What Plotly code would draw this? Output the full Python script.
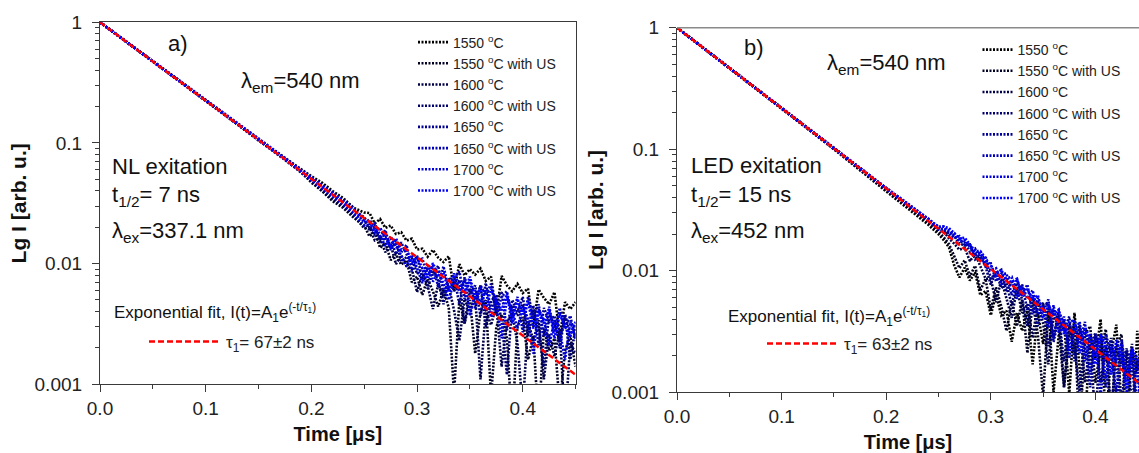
import plotly.graph_objects as go

W, H = 1139, 453
FONT = "Liberation Sans, Arial, sans-serif"

# ---------------- data ----------------
SERIES = ["1550 <sup>o</sup>C", "1550 <sup>o</sup>C with US", "1600 <sup>o</sup>C",
          "1600 <sup>o</sup>C with US", "1650 <sup>o</sup>C", "1650 <sup>o</sup>C with US",
          "1700 <sup>o</sup>C", "1700 <sup>o</sup>C with US"]
COLORS = ["#000000", "#000024", "#000049", "#00006D", "#000092", "#0000B6", "#0000DB", "#0000FF"]

TIME_A = [0, 0.05, 0.1, 0.15, 0.17, 0.19, 0.2, 0.21, 0.22, 0.23, 0.24,
          0.25, 0.255, 0.26, 0.265, 0.27, 0.275, 0.28, 0.285, 0.29, 0.295,
          0.30, 0.305, 0.31, 0.315, 0.32, 0.325, 0.33, 0.335, 0.34, 0.345,
          0.35, 0.355, 0.36, 0.365, 0.37, 0.375, 0.38, 0.385, 0.39, 0.395,
          0.40, 0.405, 0.41, 0.415, 0.42, 0.425, 0.43, 0.435, 0.44, 0.445, 0.45]

A_1550 = [1.0, 0.470, 0.223, 0.106, 0.080, 0.060, 0.053, 0.047, 0.040, 0.035, 0.029,
          0.0265, 0.0263, 0.0215, 0.0234, 0.0198, 0.0207, 0.0176, 0.0182, 0.0155, 0.0161,
          0.0131, 0.0133, 0.0114, 0.0130, 0.0112, 0.0103, 0.0115, 0.0060, 0.0099, 0.0080,
          0.0090, 0.0081, 0.0091, 0.0072, 0.0078, 0.0038, 0.0079, 0.0066, 0.0059, 0.0068,
          0.0057, 0.0062, 0.0030, 0.0061, 0.0052, 0.0046, 0.0058, 0.0025, 0.0048, 0.0042, 0.0048]
A_1550_US = [1.0, 0.475, 0.226, 0.105, 0.078, 0.058, 0.047, 0.040, 0.033, 0.029, 0.024,
             0.0207, 0.0168, 0.0185, 0.0135, 0.0149, 0.0107, 0.0120, 0.0098, 0.0107, 0.0070,
             0.0078, 0.0055, 0.0075, 0.0059, 0.0044, 0.0061, 0.0043, 0.00083, 0.0050, 0.0032,
             0.0050, 0.0018, 0.0040, 0.0050, 0.0008, 0.0030, 0.0038, 0.0024, 0.00045, 0.0031,
             0.0036, 0.0016, 0.0025, 0.00046, 0.0029, 0.0019, 0.0024, 0.00066, 0.0019, 0.0025, 0.0014]
A_1600 = [1.0, 0.472, 0.224, 0.107, 0.079, 0.057, 0.048, 0.041, 0.034, 0.030, 0.025,
          0.0196, 0.0200, 0.0156, 0.0162, 0.0124, 0.0145, 0.0099, 0.0117, 0.0095, 0.0091,
          0.0058, 0.0083, 0.0066, 0.0042, 0.0068, 0.0053, 0.0065, 0.0041, 0.0023, 0.0051,
          0.0040, 0.0054, 0.0011, 0.0041, 0.0031, 0.0045, 0.0014, 0.0033, 0.0038, 0.0022,
          0.00063, 0.0033, 0.0023, 0.0034, 0.0011, 0.0026, 0.0017, 0.0028, 0.00048, 0.0022, 0.0018]
A_1600_US = [1.0, 0.474, 0.225, 0.106, 0.080, 0.059, 0.050, 0.042, 0.036, 0.031, 0.026,
             0.0230, 0.0189, 0.0205, 0.0153, 0.0165, 0.0138, 0.0155, 0.0104, 0.0113, 0.0112,
             0.0082, 0.0092, 0.0062, 0.0092, 0.0072, 0.0046, 0.0076, 0.0059, 0.0073, 0.0032,
             0.0062, 0.0048, 0.0066, 0.0030, 0.0049, 0.0055, 0.0034, 0.0012, 0.0045, 0.0037,
             0.0046, 0.0025, 0.0041, 0.0030, 0.0014, 0.0039, 0.0031, 0.0023, 0.0037, 0.0016, 0.0030]
A_1650 = [1.0, 0.473, 0.224, 0.107, 0.079, 0.059, 0.051, 0.044, 0.038, 0.033, 0.028,
          0.0242, 0.0210, 0.0176, 0.0198, 0.0157, 0.0161, 0.0120, 0.0150, 0.0119, 0.0096,
          0.0116, 0.0074, 0.0097, 0.0080, 0.0096, 0.0057, 0.0072, 0.0079, 0.0046, 0.0077,
          0.0056, 0.0066, 0.0037, 0.0069, 0.0042, 0.0053, 0.0058, 0.0028, 0.0050, 0.0040,
          0.0053, 0.0029, 0.0045, 0.0021, 0.0043, 0.0033, 0.0037, 0.0020, 0.0038, 0.0026, 0.0032]
A_1650_US = [1.0, 0.476, 0.226, 0.108, 0.080, 0.060, 0.052, 0.045, 0.039, 0.034, 0.029,
             0.0219, 0.0231, 0.0195, 0.0162, 0.0190, 0.0130, 0.0148, 0.0124, 0.0143, 0.0086,
             0.0107, 0.0110, 0.0079, 0.0097, 0.0064, 0.0095, 0.0061, 0.0076, 0.0086, 0.0051,
             0.0074, 0.0042, 0.0066, 0.0055, 0.0068, 0.0038, 0.0053, 0.0059, 0.0036, 0.0053,
             0.0027, 0.0053, 0.0035, 0.0046, 0.0025, 0.0044, 0.0027, 0.0043, 0.0029, 0.0037, 0.0023]
A_1700 = [1.0, 0.474, 0.225, 0.106, 0.079, 0.058, 0.049, 0.042, 0.036, 0.031, 0.026,
          0.0207, 0.0210, 0.0215, 0.0171, 0.0140, 0.0168, 0.0141, 0.0117, 0.0095, 0.0118,
          0.0092, 0.0069, 0.0092, 0.0071, 0.0088, 0.0068, 0.0050, 0.0072, 0.0059, 0.0074,
          0.0037, 0.0060, 0.0048, 0.0061, 0.0036, 0.0050, 0.0024, 0.0052, 0.0041, 0.0029,
          0.0044, 0.0035, 0.0018, 0.0042, 0.0034, 0.0021, 0.0034, 0.0028, 0.0016, 0.0033, 0.0024]
A_1700_US = [1.0, 0.474, 0.226, 0.107, 0.080, 0.059, 0.051, 0.044, 0.038, 0.033, 0.028,
             0.0230, 0.0221, 0.0185, 0.0198, 0.0165, 0.0138, 0.0162, 0.0130, 0.0131, 0.0102,
             0.0112, 0.0092, 0.0075, 0.0101, 0.0080, 0.0084, 0.0058, 0.0083, 0.0066, 0.0058,
             0.0078, 0.0051, 0.0063, 0.0041, 0.0062, 0.0050, 0.0041, 0.0056, 0.0032, 0.0051,
             0.0038, 0.0049, 0.0029, 0.0040, 0.0032, 0.0042, 0.0024, 0.0038, 0.0030, 0.0025, 0.0033]

TIME_B = [0, 0.05, 0.1, 0.15, 0.2, 0.22, 0.24, 0.25,
          0.255, 0.26, 0.265, 0.27, 0.275, 0.28, 0.285, 0.29, 0.295, 0.30,
          0.305, 0.31, 0.315, 0.32, 0.325, 0.33, 0.335, 0.34, 0.345, 0.35,
          0.355, 0.36, 0.365, 0.37, 0.375, 0.38, 0.385, 0.39, 0.395, 0.40,
          0.405, 0.41, 0.415, 0.42, 0.425, 0.43, 0.435, 0.44, 0.445, 0.45]

B_1550 = [1.0, 0.466, 0.217, 0.100, 0.045, 0.033, 0.024, 0.020,
          0.0179, 0.0156, 0.0111, 0.0088, 0.0106, 0.0083, 0.0097, 0.0063, 0.0068, 0.0043,
          0.0064, 0.0043, 0.0047, 0.0026, 0.0045, 0.0032, 0.0047, 0.0017, 0.0045, 0.0025,
          0.0052, 0.0010, 0.0030, 0.0039, 0.00096, 0.0045, 0.0017, 0.00054, 0.0030, 0.0019,
          0.0040, 0.00055, 0.0021, 0.0036, 0.00076, 0.0022, 0.00036, 0.0032, 0.0012, 0.0021]
B_1550_US = [1.0, 0.467, 0.218, 0.101, 0.046, 0.034, 0.025, 0.021,
             0.0189, 0.0166, 0.0130, 0.0105, 0.0122, 0.0090, 0.0110, 0.0069, 0.0086, 0.0048,
             0.0073, 0.0051, 0.0032, 0.0056, 0.0035, 0.0058, 0.0021, 0.0055, 0.0030, 0.00092,
             0.0047, 0.0028, 0.0048, 0.0011, 0.0029, 0.0036, 0.00042, 0.0030, 0.0035, 0.0012,
             0.0023, 0.0033, 0.00063, 0.0024, 0.0030, 0.00045, 0.0023, 0.0015, 0.0031, 0.00064]
B_1600 = [1.0, 0.467, 0.218, 0.102, 0.047, 0.035, 0.026, 0.022,
          0.0210, 0.0185, 0.0167, 0.0149, 0.0155, 0.0120, 0.0138, 0.0107, 0.0086, 0.0086,
          0.0055, 0.0085, 0.0059, 0.0041, 0.0072, 0.0045, 0.0053, 0.0028, 0.0055, 0.0037,
          0.0017, 0.0048, 0.0033, 0.0011, 0.0035, 0.0021, 0.0036, 0.0012, 0.0025, 0.0006,
          0.0028, 0.0018, 0.0028, 0.0007, 0.0021, 0.0013, 0.0025, 0.00051, 0.0017, 0.0019]
B_1600_US = [1.0, 0.468, 0.219, 0.101, 0.047, 0.035, 0.026, 0.022,
             0.0221, 0.0195, 0.0194, 0.0166, 0.0163, 0.0165, 0.0124, 0.0132, 0.0108, 0.0077,
             0.0100, 0.0072, 0.0079, 0.0052, 0.0079, 0.0058, 0.0035, 0.0061, 0.0043, 0.0055,
             0.0024, 0.0040, 0.0043, 0.0018, 0.0038, 0.0024, 0.00098, 0.0034, 0.0023, 0.0031,
             0.0012, 0.0024, 0.00063, 0.0024, 0.0017, 0.0023, 0.00081, 0.0019, 0.0006, 0.0019]
B_1650 = [1.0, 0.467, 0.218, 0.102, 0.048, 0.035, 0.026, 0.022,
          0.0210, 0.0205, 0.0204, 0.0175, 0.0171, 0.0143, 0.0152, 0.0126, 0.0131, 0.0086,
          0.0096, 0.0102, 0.0067, 0.0081, 0.0062, 0.0077, 0.0047, 0.0063, 0.0035, 0.0051,
          0.0054, 0.0026, 0.0041, 0.0032, 0.0042, 0.0018, 0.0034, 0.0024, 0.0011, 0.0030,
          0.0023, 0.0011, 0.0027, 0.0017, 0.00076, 0.0022, 0.0017, 0.0006, 0.0022, 0.0014]
B_1650_US = [1.0, 0.468, 0.219, 0.102, 0.048, 0.036, 0.027, 0.023,
             0.0231, 0.0205, 0.0185, 0.0193, 0.0163, 0.0165, 0.0131, 0.0145, 0.0114, 0.0115,
             0.0082, 0.0094, 0.0095, 0.0063, 0.0086, 0.0064, 0.0077, 0.0044, 0.0060, 0.0046,
             0.0058, 0.0028, 0.0046, 0.0037, 0.0019, 0.0039, 0.0025, 0.0038, 0.0014, 0.0029,
             0.00092, 0.0030, 0.0021, 0.0010, 0.0027, 0.0014, 0.0023, 0.00077, 0.0020, 0.0011]
B_1700 = [1.0, 0.467, 0.218, 0.101, 0.047, 0.035, 0.027, 0.022,
          0.0221, 0.0215, 0.0194, 0.0175, 0.0179, 0.0158, 0.0138, 0.0139, 0.0108, 0.0101,
          0.0105, 0.0077, 0.0087, 0.0089, 0.0059, 0.0074, 0.0059, 0.0069, 0.0045, 0.0051,
          0.0034, 0.0052, 0.0031, 0.0042, 0.0022, 0.0032, 0.0038, 0.0018, 0.0030, 0.0020,
          0.0030, 0.0013, 0.0024, 0.0018, 0.0025, 0.00099, 0.0022, 0.0014, 0.00068, 0.0020]
B_1700_US = [1.0, 0.468, 0.219, 0.102, 0.048, 0.036, 0.027, 0.023,
             0.0231, 0.0224, 0.0204, 0.0184, 0.0187, 0.0165, 0.0145, 0.0145, 0.0125, 0.0110,
             0.0091, 0.0102, 0.0083, 0.0081, 0.0086, 0.0061, 0.0071, 0.0058, 0.0063, 0.0041,
             0.0052, 0.0044, 0.0048, 0.0030, 0.0038, 0.0039, 0.0021, 0.0034, 0.0028, 0.0017,
             0.0030, 0.0024, 0.0014, 0.0027, 0.0020, 0.0011, 0.0023, 0.0019, 0.0012, 0.0019]

# exponential fit lines (end points)
FIT_T = [0.0, 0.45]
FIT_A = [1.0, 0.0012]
FIT_B = [1.0, 0.00105]
FIT_NAME_A = "τ<sub>1</sub>= 67±2 ns"
FIT_NAME_B = "τ<sub>1</sub>= 63±2 ns"

Y_TICKS = [0.001, 0.01, 0.1, 1]
Y_TICKTEXT = ["0.001", "0.01", "0.1", "1"]
Y_MINOR = [m * d for d in (0.001, 0.01, 0.1) for m in range(2, 10)]

PANEL_A = [A_1550, A_1550_US, A_1600, A_1600_US, A_1650, A_1650_US, A_1700, A_1700_US]
PANEL_B = [B_1550, B_1550_US, B_1600, B_1600_US, B_1650, B_1650_US, B_1700, B_1700_US]
for s in PANEL_A:
    assert len(s) == len(TIME_A)
for s in PANEL_B:
    assert len(s) == len(TIME_B)

# ---------------- figure ----------------
fig = go.Figure()
DOT = "2px,1.5px"
LW = 2.6

for name, col, ys in zip(SERIES, COLORS, PANEL_A):
    fig.add_trace(go.Scatter(x=TIME_A, y=ys, mode="lines", name=name,
                             line=dict(color=col, width=LW, dash=DOT),
                             xaxis="x", yaxis="y", legend="legend"))
fig.add_trace(go.Scatter(x=FIT_T, y=FIT_A, mode="lines", name=FIT_NAME_A,
                         line=dict(color="#FF0000", width=2.5, dash="6px,3px"),
                         xaxis="x", yaxis="y", legend="legend3"))

for name, col, ys in zip(SERIES, COLORS, PANEL_B):
    fig.add_trace(go.Scatter(x=TIME_B, y=ys, mode="lines", name=name,
                             line=dict(color=col, width=LW, dash=DOT),
                             xaxis="x2", yaxis="y2", legend="legend2"))
fig.add_trace(go.Scatter(x=FIT_T, y=FIT_B, mode="lines", name=FIT_NAME_B,
                         line=dict(color="#FF0000", width=2.5, dash="6px,3px"),
                         xaxis="x2", yaxis="y2", legend="legend4"))

AX = "#3a3a3a"
TICKFONT = dict(family=FONT, size=19, color="#222")
TITLEFONT = dict(family=FONT, size=20, color="#111", weight="bold")


def xax(domain, anchor, rng, mirror):
    return dict(domain=domain, anchor=anchor, range=rng, showgrid=False, zeroline=False,
                automargin=False,
                showline=True, linecolor=AX, linewidth=1.2, mirror=mirror,
                ticks="outside", ticklen=7, tickwidth=1, tickcolor=AX,
                dtick=0.1, tick0=0, tickformat=".1f", tickfont=TICKFONT,
                minor=dict(ticks="outside", ticklen=4, dtick=0.05, tick0=0, tickcolor=AX),
                title=dict(text="<b>Time [μs]</b>", font=TITLEFONT, standoff=8))


def yax(domain, anchor, mirror):
    return dict(domain=domain, anchor=anchor, type="log", range=[-3, 0], showgrid=False,
                zeroline=False, automargin=False,
                showline=True, linecolor=AX, linewidth=1.2, mirror=mirror,
                ticks="outside", ticklen=7, tickwidth=1, tickcolor=AX, ticklabelstandoff=6,
                tickmode="array", tickvals=Y_TICKS, ticktext=Y_TICKTEXT, tickfont=TICKFONT,
                minor=dict(ticks="outside", ticklen=4, tickmode="array", tickvals=Y_MINOR,
                           tickcolor=AX),
                title=dict(text="<b>Lg I [arb. u.]</b>", font=dict(family=FONT, size=21,
                           color="#111", weight="bold"), standoff=2))


XA = [100 / W, 575.6 / W]
YA = [1 - 384.3 / H, 1 - 22.3 / H]
XB = [677 / W, 1.0]
YB = [1 - 392.3 / H, 1 - 27.7 / H]

LEG = dict(xanchor="left", yanchor="top", bgcolor="rgba(0,0,0,0)", borderwidth=0,
           font=dict(family=FONT, size=14, color="#222"), itemclick=False)

fig.update_layout(
    width=W, height=H, margin=dict(l=0, r=0, t=0, b=0, autoexpand=False),
    paper_bgcolor="white", plot_bgcolor="white",
    font=dict(family=FONT, color="#222"),
    xaxis=xax(XA, "y", [0, 0.45], True),
    yaxis=yax(YA, "x", True),
    xaxis2=xax(XB, "y2", [0, (W - 677) / 1046], False),
    yaxis2=yax(YB, "x2", False),
    legend=dict(LEG, x=413 / W, y=1 - 26.5 / H),
    legend2=dict(LEG, x=977.5 / W, y=1 - 34 / H),
    legend3=dict(LEG, x=144 / W, y=1 - 324 / H, itemwidth=72,
                 font=dict(family=FONT, size=17, color="#222")),
    legend4=dict(LEG, x=762 / W, y=1 - 326 / H, itemwidth=72,
                 font=dict(family=FONT, size=17, color="#222")),
    showlegend=True,
)

# grey top border of panel b
fig.add_shape(type="line", xref="x2 domain", yref="y2 domain", x0=0, x1=1, y0=1, y1=1,
              line=dict(color="#8a8a8a", width=1.5))


def ann(text, xpx, ypx, size, xanchor="left"):
    fig.add_annotation(text=text, x=xpx / W, y=1 - ypx / H, xref="paper", yref="paper",
                       xanchor=xanchor, yanchor="middle", showarrow=False,
                       font=dict(family=FONT, size=size, color="#111"))


# panel a texts
ann("a)", 178, 43, 22, "center")
ann("λ<sub>em</sub>=540 nm", 239, 82, 22)
ann("NL exitation", 110, 166, 22)
ann("t<sub>1/2</sub>= 7 ns", 110, 196, 22)
ann("λ<sub>ex</sub>=337.1 nm", 110, 232, 22)
ann("Exponential fit, I(t)=A<sub>1</sub>e<sup>(-t/τ<sub>1</sub>)</sup>", 112, 312, 17)

# panel b texts
ann("b)", 754, 48, 22, "center")
ann("λ<sub>em</sub>=540 nm", 825, 64, 22)
ann("LED exitation", 689, 165, 22)
ann("t<sub>1/2</sub>= 15 ns", 689, 196, 22)
ann("λ<sub>ex</sub>=452 nm", 689, 232, 22)
ann("Exponential fit, I(t)=A<sub>1</sub>e<sup>(-t/τ<sub>1</sub>)</sup>", 726, 316, 17)

# the page's default 8px body margin would shift the fixed-size figure
fig.write_html("out.html", config={"displayModeBar": False},
               post_script="document.body.style.margin='0';document.body.style.overflow='hidden';")
